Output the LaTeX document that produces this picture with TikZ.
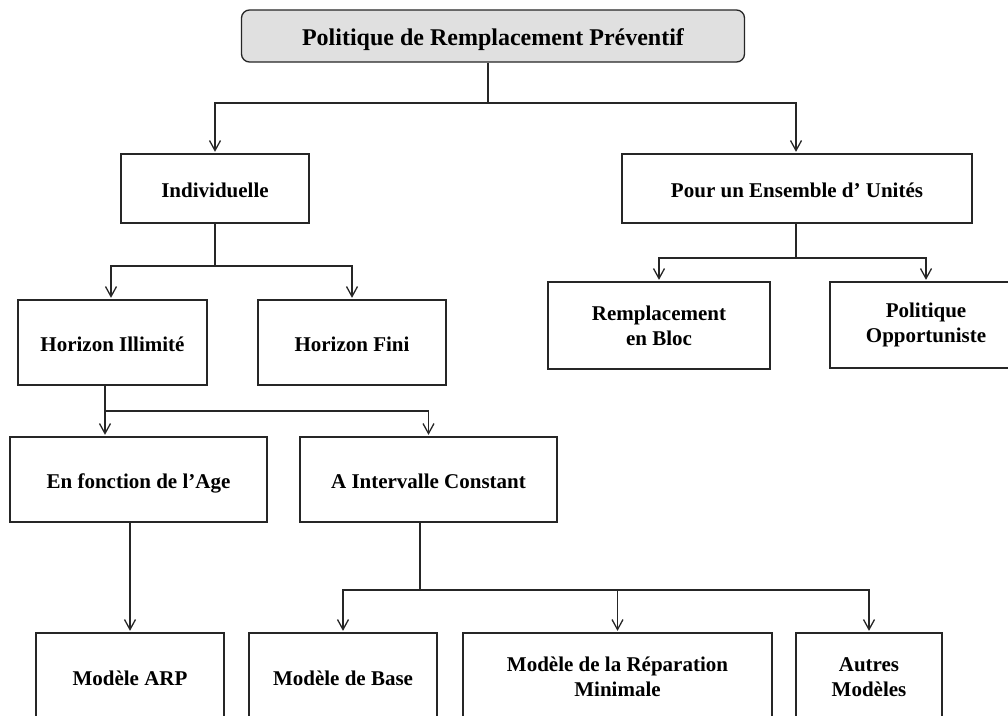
\documentclass[tikz,border=0pt]{standalone}
\usepackage{fontspec}
\setmainfont{Liberation Serif}
\usetikzlibrary{arrows.meta}
\begin{document}
\begin{tikzpicture}[x=1pt,y=-1pt,
  every node/.style={font=\fontsize{21}{25}\selectfont\bfseries, align=center, inner sep=0pt},
  box/.style={draw=black!85, line width=1.3pt, rectangle},
  one/.style={text height=20pt, text depth=3pt},
  conn/.style={draw=black!85, line width=1.3pt},
  arr/.style={conn, -{Straight Barb[length=10pt,width=11pt]}, shorten >=1.5pt}]
\useasboundingbox (0,0) rectangle (1008,715);
\clip (0,0) rectangle (1008,715);
% nodes
\node[box, text height=21pt, text depth=3pt, rounded corners=8pt, fill=black!12, minimum width=503pt, minimum height=52pt,
      font=\fontsize{24}{28}\selectfont\bfseries] (top) at (493,36) {Politique de Remplacement Préventif};
\node[box, one, minimum width=188pt, minimum height=69pt] (ind) at (215,188.5) {Individuelle};
\node[box, one, minimum width=350pt, minimum height=69pt] (ens) at (797,188.5) {Pour un Ensemble d' Unités};
\node[box, one, minimum width=189pt, minimum height=85pt] (hil) at (112.5,342.5) {Horizon Illimité};
\node[box, one, minimum width=188pt, minimum height=85pt] (hfi) at (352,342.5) {Horizon Fini};
\node[box, minimum width=222pt, minimum height=87pt] (bloc) at (659,325.5) {Remplacement\\en Bloc};
\node[box, minimum width=192pt, minimum height=86pt] (opp) at (926,325) {Politique\\Opportuniste};
\node[box, one, minimum width=257pt, minimum height=85pt] (age) at (138.5,479.5) {En fonction de l’Age};
\node[box, one, minimum width=257pt, minimum height=85pt] (int) at (428.5,479.5) {A Intervalle Constant};
\node[box, one, minimum width=188pt, minimum height=88pt] (arp) at (130,677) {Modèle ARP};
\node[box, one, minimum width=188pt, minimum height=88pt] (base) at (343,677) {Modèle de Base};
\node[box, minimum width=309pt, minimum height=88pt] (rep) at (617.5,677) {Modèle de la Réparation\\Minimale};
\node[box, minimum width=146pt, minimum height=88pt] (aut) at (869,677) {Autres\\Modèles};
% junctions
\coordinate (j1) at (488,103);
\coordinate (j2) at (215,266);
\coordinate (j3) at (105,411);
\coordinate (j4) at (420,590);
\coordinate (j5) at (796,258);
\coordinate (a2) at (111,0);
\coordinate (a6) at (130,0);
% connectors
\draw[conn] (j1 |- top.south) -- (j1);
\draw[arr] (j1) -| (ind.north);
\draw[arr] (j1) -| (j5 |- ens.north);
\draw[conn] (ind.south) -- (j2);
\draw[arr] (j2) -| (a2 |- hil.north);
\draw[arr] (j2) -| (hfi.north);
\draw[conn] (j5 |- ens.south) -- (j5);
\draw[arr] (j5) -| (bloc.north);
\draw[arr] (j5) -| (opp.north);
\draw[conn] (j3 |- hil.south) -- (j3);
\draw[arr] (j3) -- (j3 |- age.north);
\draw[arr] (j3) -| (int.north);
\draw[arr] (a6 |- age.south) -- (arp.north);
\draw[conn] (j4 |- int.south) -- (j4);
\draw[arr] (j4) -| (base.north);
\draw[arr] (j4) -| (rep.north);
\draw[arr] (j4) -| (aut.north);
\end{tikzpicture}
\end{document}
